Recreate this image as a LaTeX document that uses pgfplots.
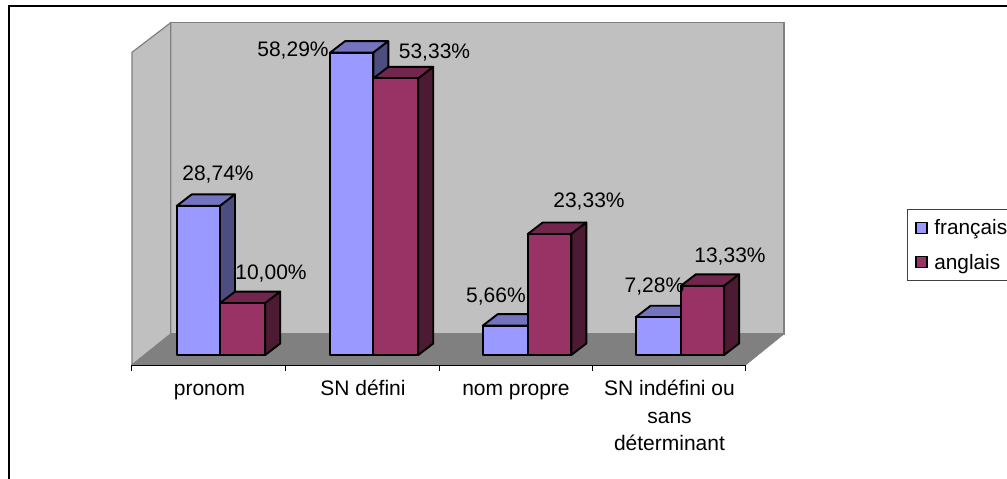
\documentclass[border=0pt]{standalone}
\usepackage{pgfplots}
\pgfplotsset{compat=1.18}
\usepackage{fontspec}
\setmainfont{Liberation Sans}
\definecolor{fr}{HTML}{9999FF}
\definecolor{frtop}{HTML}{7373BF}
\definecolor{frside}{HTML}{4D4D80}
\definecolor{en}{HTML}{993366}
\definecolor{entop}{HTML}{73264D}
\definecolor{enside}{HTML}{4D1A33}
\definecolor{wall}{HTML}{C0C0C0}
\definecolor{floorc}{HTML}{808080}
\def\ddx{0.0977}
\def\ddy{2.22}
% x0, x1, value, front, top, side
\newcommand{\threeDbar}[6]{%
  \pgfmathsetmacro\xa{#1+\ddx}%
  \pgfmathsetmacro\xb{#2+\ddx}%
  \pgfmathsetmacro\yt{#3+\ddy}%
  \addplot[draw=black,fill=#5,line width=1.9pt,line join=round,forget plot] coordinates {(#1,#3)(#2,#3)(\xb,\yt)(\xa,\yt)} -- cycle;
  \addplot[draw=black,fill=#6,line width=1.9pt,line join=round,forget plot] coordinates {(#2,0)(\xb,\ddy)(\xb,\yt)(#2,#3)} -- cycle;
  \addplot[draw=black,fill=#4,line width=1.9pt,line join=round,forget plot] coordinates {(#1,0)(#2,0)(#2,#3)(#1,#3)} -- cycle;
}
\newcommand{\txt}[3]{\node[anchor=base,inner sep=0pt,font=\fontsize{21}{27}\selectfont] at (#1pt,479pt-#2pt) {#3};}
\begin{document}
\begin{tikzpicture}
\useasboundingbox (0,0) rectangle (1007pt,479pt);
\clip (0,0) rectangle (1007pt,479pt);
\begin{axis}[
  scale only axis, width=1007pt, height=479pt,
  xmin=-1.3599, xmax=5.2003, ymin=-23.91, ymax=68.45,
  hide axis, clip=false,
  legend style={at={(rel axis cs:0.9004,0.5637)},anchor=north west,draw=black!75,line width=0.9pt,
    font=\fontsize{20.8}{24}\selectfont,cells={anchor=west},row sep=14pt,inner xsep=8pt,inner ysep=8pt,
    /tikz/every even column/.append style={column sep=8pt}},
]
% walls and floor
\addplot[draw=floorc,fill=wall,line width=1.2pt,forget plot] coordinates {(-0.2479,4.05)(3.7476,4.05)(3.7476,64.07)(-0.2479,64.07)} -- cycle;
\addplot[draw=floorc,fill=wall,line width=1.2pt,forget plot] coordinates {(-0.5,-1.93)(-0.2479,4.05)(-0.2479,64.07)(-0.5,58.37)} -- cycle;
\addplot[draw=floorc,fill=floorc,line width=0.5pt,forget plot] coordinates {(-0.5,-1.93)(-0.2479,4.05)(3.7476,4.05)(3.498,-1.93)} -- cycle;
% axis line and ticks
\addplot[black,line width=1pt,forget plot] coordinates {(-0.5,-1.93)(3.498,-1.93)};
\addplot[black,line width=1pt,forget plot] coordinates {(-0.5,-1.93)(-0.5,-3.09)};
\addplot[black,line width=1pt,forget plot] coordinates {(0.5,-1.93)(0.5,-3.09)};
\addplot[black,line width=1pt,forget plot] coordinates {(1.5,-1.93)(1.5,-3.09)};
\addplot[black,line width=1pt,forget plot] coordinates {(2.5,-1.93)(2.5,-3.09)};
\addplot[black,line width=1pt,forget plot] coordinates {(3.498,-1.93)(3.498,-3.09)};
% bars
\threeDbar{-0.209}{0.0733}{28.74}{fr}{frtop}{frside}
\threeDbar{0.0733}{0.368}{10.00}{en}{entop}{enside}
\threeDbar{0.790}{1.072}{58.29}{fr}{frtop}{frside}
\threeDbar{1.072}{1.365}{53.33}{en}{entop}{enside}
\threeDbar{1.785}{2.078}{5.66}{fr}{frtop}{frside}
\threeDbar{2.078}{2.362}{23.33}{en}{entop}{enside}
\threeDbar{2.781}{3.075}{7.28}{fr}{frtop}{frside}
\threeDbar{3.075}{3.357}{13.33}{en}{entop}{enside}
% legend
\addlegendimage{legend image code/.code={\draw[fill=fr,draw=black,line width=1.4pt] (0pt,-5.5pt) rectangle (11pt,5.5pt);\path (16pt,0pt);}}
\addlegendentry{français}
\addlegendimage{legend image code/.code={\draw[fill=en,draw=black,line width=1.4pt] (0pt,-5.5pt) rectangle (11pt,5.5pt);\path (16pt,0pt);}}
\addlegendentry{anglais}
\end{axis}
% frame
\draw[black,line width=2pt] (9pt,0pt) -- (9pt,473pt) -- (1007pt,473pt);
% data labels
\txt{218}{181}{28,74\%}
\txt{271}{280}{10,00\%}
\txt{293}{57}{58,29\%}
\txt{434.5}{59}{53,33\%}
\txt{496}{303}{5,66\%}
\txt{589}{208}{23,33\%}
\txt{654.5}{293}{7,28\%}
\txt{730}{263}{13,33\%}
% category labels
\txt{209.5}{396}{pronom}
\txt{363}{396}{SN défini}
\txt{516}{396}{nom propre}
\txt{669.5}{396}{SN indéfini ou}
\txt{669.5}{423.5}{sans}
\txt{669.5}{451}{déterminant}
\end{tikzpicture}
\end{document}
